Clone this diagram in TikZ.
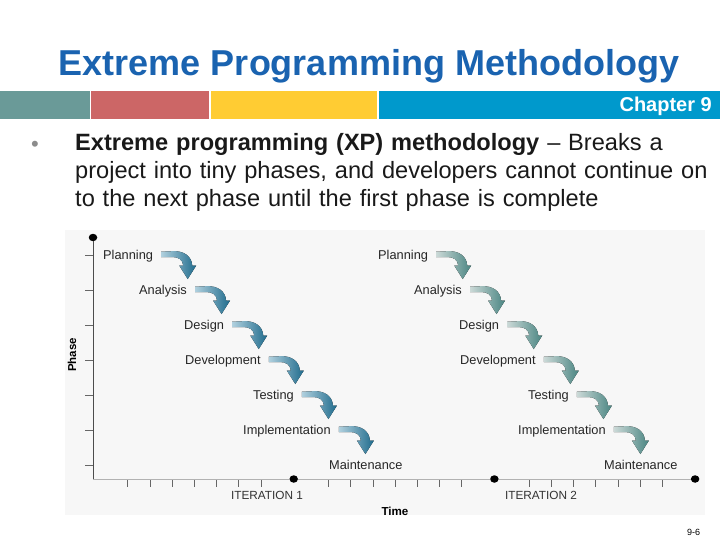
\documentclass[tikz,border=0pt]{standalone}
\usepackage{fontspec}
\setmainfont{Liberation Sans}
\usetikzlibrary{positioning, calc, shapes.geometric}

\definecolor{titleblue}{HTML}{1A63B0}
\definecolor{barteal}{HTML}{6A9A98}
\definecolor{barred}{HTML}{CC6666}
\definecolor{baryellow}{HTML}{FFCC33}
\definecolor{barblue}{HTML}{0099CC}
\definecolor{arrowdarkA}{HTML}{1F6B8C}
\definecolor{arrowlightA}{HTML}{B0D0DE}
\definecolor{arrowdarkB}{HTML}{4A8582}
\definecolor{arrowlightB}{HTML}{CBD9D7}

\tikzset{
  title/.style={font=\fontsize{36}{40}\selectfont\bfseries, text=titleblue, inner sep=0pt, anchor=base},
  chapter/.style={font=\fontsize{20}{22}\selectfont\bfseries, text=white, inner sep=0pt, anchor=base east},
  bullettext/.style={font=\fontsize{23.6}{28}\selectfont, text=black!90, inner sep=0pt, anchor=base west,
    text width=700pt, align=left},
  phase/.style={font=\fontsize{12.8}{14}\selectfont, text=black!85, inner sep=0pt, anchor=base west},
  axislabel/.style={font=\fontsize{11.8}{13}\selectfont, text=black!80, inner sep=0pt},
  axisdot/.style={ellipse, fill=black, inner sep=0pt, minimum width=8.5pt, minimum height=7.5pt},
  tick/.style={draw=black!60, line width=0.8pt},
  pics/phasearrow/.style={code={
    \fill[left color=arrowlight#1, middle color=arrowdark#1, right color=arrowdark#1]
      (0,-2.8) -- (11,-3.3) .. controls (23,-4) and (30.5,2) .. (31,11)
      -- (35,11) -- (26.5,24.5) -- (18,11) -- (22,11)
      .. controls (21.5,5) and (17,2.5) .. (11,2.5) -- (0,2.5) -- cycle;
  }}
}

\begin{document}
\begin{tikzpicture}[x=1pt, y=-1pt]
    \useasboundingbox (0,0) rectangle (720,540);

    % header
    \node[title] (T) at (369,76) {Extreme Programming Methodology};
    \fill[barteal] (0,91) rectangle (89.5,119);
    \fill[barred] (91,91) rectangle (209,119);
    \fill[baryellow] (211,91) rectangle (376.5,119);
    \fill[barblue] (378.5,91) rectangle (720,119);
    \node[chapter] (C) at (712,112) {Chapter 9};

    % bullet
    \node[font=\fontsize{22}{24}\selectfont, text=black!45, inner sep=0pt, anchor=base] (B) at (35,152) {•};
    \node[bullettext] (BT) at (75,151) {\textbf{Extreme programming (XP) methodology} – Breaks a\\
        project into tiny phases, and developers cannot continue on\\
        to the next phase until the first phase is complete};

    % diagram
    \fill[black!3] (65,230) rectangle (705,515);
    \coordinate (O) at (93,479);
    \node[axisdot] (Dtop) at (93,237.5) {};
    \node[axisdot] (D1) at (293.7,479) {};
    \node[axisdot] (D2) at (494.4,479) {};
    \node[axisdot] (D3) at (695.1,479) {};
    \draw[black!70, line width=0.9pt] (Dtop) -- (O);
    \draw[black!30, line width=0.9pt] (O) -- (D1) -- (D2) -- (D3);
    \foreach \i in {0,...,6}
        \draw[tick] ($(O)+(-8,-224+35*\i)$) -- ++(8,0);
    \foreach \j in {0,1,2}
        \foreach \m in {0,...,6}
            \draw[tick] ($(O)+(200.7*\j+22.2*\m+34.8,1)$) -- ++(0,7);

    \node[axislabel] (I1) at (267,495) {ITERATION 1};
    \node[axislabel] (I2) at (541,495) {ITERATION 2};
    \node[axislabel, font=\fontsize{11.6}{13}\selectfont\bfseries, text=black] (Time) at (395,511.5) {Time};
    \node[axislabel, font=\fontsize{11.5}{12}\selectfont\bfseries, text=black, rotate=90] (Phase) at (72,355) {Phase};

    % phases and arrows of both iterations
    \foreach \it/\dx/\col in {1/0/A, 2/275/B} {
        \foreach \lbl/\x [count=\i] in {Planning/103, Analysis/139, Design/184, Development/185,
                Testing/253, Implementation/243, Maintenance/329}
            \node[phase] (P\it-\i) at (\x+\dx, 224.5+35*\i) {\lbl};
        \foreach \i in {1,...,6}
            \pic at ([xshift=8pt, yshift=5pt]P\it-\i.base east) {phasearrow=\col};
    }

    \node[font=\fontsize{9}{10}\selectfont, inner sep=0pt] (Pg) at (693.5,532) {9-6};
\end{tikzpicture}
\end{document}
